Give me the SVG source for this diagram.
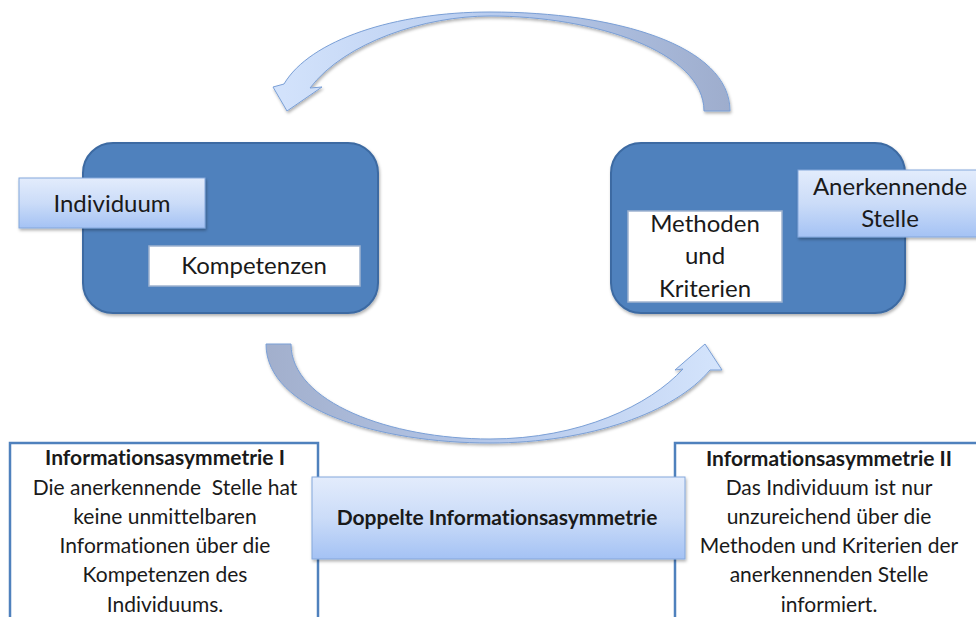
<svg xmlns="http://www.w3.org/2000/svg" width="976" height="617" viewBox="0 0 976 617">
<defs>
<linearGradient id="gLabel" x1="0" y1="0" x2="0" y2="1">
<stop offset="0" stop-color="#e3ecfc"/>
<stop offset="0.5" stop-color="#cbdcf8"/>
<stop offset="1" stop-color="#a4c2f4"/>
</linearGradient>
<linearGradient id="gTop" x1="284" y1="0" x2="730" y2="0" gradientUnits="userSpaceOnUse">
<stop offset="0" stop-color="#d2e2fb"/>
<stop offset="0.45" stop-color="#b9cdef"/>
<stop offset="1" stop-color="#9eadcd"/>
</linearGradient>
<linearGradient id="gBot" x1="266" y1="0" x2="722" y2="0" gradientUnits="userSpaceOnUse">
<stop offset="0" stop-color="#a2afcc"/>
<stop offset="0.5" stop-color="#b5c8ea"/>
<stop offset="1" stop-color="#d4e4fc"/>
</linearGradient>
<filter id="sh" x="-10%" y="-10%" width="130%" height="140%">
<feDropShadow dx="1" dy="2" stdDeviation="1.5" flood-color="#000" flood-opacity="0.3"/>
</filter>
<style>
.big{fill:#4f81bd;stroke:#3c6aa2;stroke-width:2}
.lbl{fill:url(#gLabel);stroke:#84a7db;stroke-width:1}
.wht{fill:#fff;stroke:#9fb3cf;stroke-width:1.5}
.info{fill:#fff;stroke:#4f81bd;stroke-width:2.5}
.arr{stroke:#7a9fd6;stroke-width:1}
text{font-family:Lato,"Open Sans","Liberation Sans",sans-serif;fill:#1a1a1a;text-anchor:middle;font-variant-ligatures:none;font-feature-settings:"liga" 0,"dlig" 0}
.t24{font-size:24px}
.t21{font-size:21px}
.b21{font-size:21px;font-weight:bold}
.b20{font-size:21px;font-weight:bold}
</style>
</defs>

<g id="connectors">
<path class="arr" fill="url(#gTop)" filter="url(#sh)" d="M730,111 C730,45 615,12 490,12 C395,12 310,40 284,84 L273,87 L287,111 L322,87 L310,88 C345,42 425,16 490,16 C595,16 704,52 704,111 Z"/>
<path class="arr" fill="url(#gBot)" filter="url(#sh)" d="M266,344 C266,410 380,443 490,443 C590,443 675,412 710,370 L722,370 L705,344 L675,370 L683,369 C650,405 580,439 490,439 C390,439 291,402 291,344 Z"/>
</g>

<g id="individuum-group">
<rect class="big" x="83" y="143" width="295" height="170" rx="30" ry="30" filter="url(#sh)"/>
</g>
<g id="individuum">
<rect class="lbl" x="19" y="178" width="186" height="50" filter="url(#sh)"/>
<text class="t24" x="112" y="212">Individuum</text>
</g>
<g id="kompetenzen">
<rect class="wht" x="149" y="246" width="211" height="40"/>
<text class="t24" x="254" y="274">Kompetenzen</text>
</g>

<g id="stelle-group">
<rect class="big" x="611" y="143" width="294" height="170" rx="30" ry="30" filter="url(#sh)"/>
</g>
<g id="methoden">
<rect class="wht" x="628" y="211" width="154" height="91"/>
<text class="t24" x="705" y="232">Methoden</text>
<text class="t24" x="705" y="264">und</text>
<text class="t24" x="705" y="297">Kriterien</text>
</g>
<g id="anerkennende-stelle">
<rect class="lbl" x="798" y="170" width="186" height="67" filter="url(#sh)"/>
<text class="t24" x="890" y="195">Anerkennende</text>
<text class="t24" x="890" y="227">Stelle</text>
</g>

<g id="asym1">
<rect class="info" x="10" y="443" width="308" height="190"/>
<text class="b21" x="165" y="465">Informationsasymmetrie I</text>
<text class="t21" x="165" y="495" xml:space="preserve" style="white-space:pre">Die anerkennende  Stelle hat</text>
<text class="t21" x="165" y="524">keine unmittelbaren</text>
<text class="t21" x="165" y="553">Informationen über die</text>
<text class="t21" x="165" y="582">Kompetenzen des</text>
<text class="t21" x="165" y="612">Individuums.</text>
</g>

<g id="asym2">
<rect class="info" x="675" y="443" width="310" height="190"/>
<text class="b21" x="829" y="466">Informationsasymmetrie II</text>
<text class="t21" x="829" y="495">Das Individuum ist nur</text>
<text class="t21" x="829" y="524">unzureichend über die</text>
<text class="t21" x="829" y="553">Methoden und Kriterien der</text>
<text class="t21" x="829" y="582">anerkennenden Stelle</text>
<text class="t21" x="829" y="612">informiert.</text>
</g>

<g id="doppelte">
<rect class="lbl" x="312" y="477" width="373" height="82" filter="url(#sh)"/>
<text class="b20" x="497" y="525">Doppelte Informationsasymmetrie</text>
</g>
</svg>
